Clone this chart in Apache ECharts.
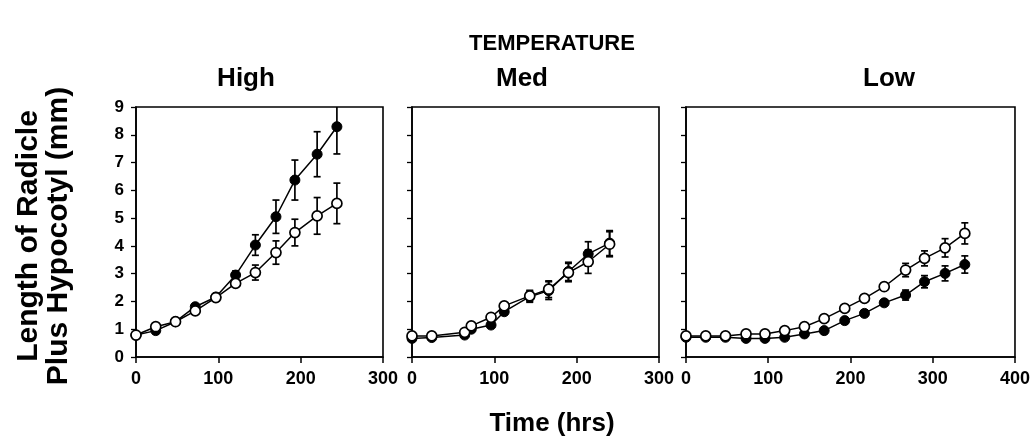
<!DOCTYPE html>
<html>
<head>
<meta charset="utf-8">
<script src="https://cdn.jsdelivr.net/npm/echarts@6/dist/echarts.min.js"></script>
<style>
html,body{margin:0;padding:0;background:#fff;}
#chart{width:1033px;height:440px;}
</style>
</head>
<body>
<div id="chart"></div>
<script>
// ---- Data ----
const panelTitles = ['High', 'Med', 'Low'];
const xMaxes = [300, 300, 400];
const yTicks = [0, 1, 2, 3, 4, 5, 6, 7, 8, 9];

const highTime = [0, 24, 48, 72, 97, 121, 145, 170, 193, 220, 244];
const highFilled = [0.79, 0.95, 1.27, 1.81, 2.16, 2.95, 4.03, 5.05, 6.37, 7.3, 8.29];
const highFilledErr = [0.05, 0.05, 0.05, 0.08, 0.12, 0.15, 0.37, 0.6, 0.72, 0.81, 0.98];
const highOpen = [0.79, 1.09, 1.27, 1.66, 2.14, 2.65, 3.04, 3.76, 4.48, 5.08, 5.53];
const highOpenErr = [0.05, 0.05, 0.05, 0.08, 0.12, 0.1, 0.27, 0.42, 0.48, 0.66, 0.73];

const medTime = [0, 24, 64, 72, 96, 112, 143, 166, 190, 214, 240];
const medFilled = [0.67, 0.7, 0.79, 1.0, 1.15, 1.63, 2.17, 2.39, 3.08, 3.71, 4.1];
const medFilledErr = [0.05, 0.05, 0.05, 0.05, 0.1, 0.1, 0.2, 0.32, 0.33, 0.44, 0.45];
const medOpen = [0.76, 0.76, 0.89, 1.12, 1.43, 1.84, 2.2, 2.44, 3.04, 3.43, 4.06];
const medOpenErr = [0.05, 0.05, 0.05, 0.05, 0.08, 0.1, 0.2, 0.3, 0.33, 0.42, 0.45];

const lowTime = [0, 24, 48, 73, 96, 120, 144, 168, 193, 217, 241, 267, 290, 315, 339];
const lowFilled = [0.71, 0.71, 0.71, 0.67, 0.67, 0.71, 0.83, 0.95, 1.31, 1.57, 1.95, 2.23, 2.71, 3.01, 3.33];
const lowFilledErr = [0.05, 0.05, 0.05, 0.05, 0.05, 0.05, 0.05, 0.05, 0.06, 0.08, 0.1, 0.18, 0.22, 0.27, 0.31];
const lowOpen = [0.76, 0.76, 0.76, 0.83, 0.83, 0.95, 1.09, 1.38, 1.75, 2.11, 2.53, 3.13, 3.55, 3.93, 4.45];
const lowOpenErr = [0.05, 0.05, 0.05, 0.05, 0.05, 0.05, 0.05, 0.06, 0.08, 0.1, 0.12, 0.24, 0.27, 0.33, 0.38];

const panels = [
  {time: highTime, filled: highFilled, filledErr: highFilledErr, open: highOpen, openErr: highOpenErr},
  {time: medTime, filled: medFilled, filledErr: medFilledErr, open: medOpen, openErr: medOpenErr},
  {time: lowTime, filled: lowFilled, filledErr: lowFilledErr, open: lowOpen, openErr: lowOpenErr}
];

// ---- Layout ----
const FONT = '"Liberation Sans", Arial, Helvetica, sans-serif';
const grids = [
  {left: 136, width: 247, top: 107, height: 250},
  {left: 412, width: 247, top: 107, height: 250},
  {left: 686, width: 330, top: 107, height: 250}
];
const titleX = [246, 522, 889];

const chart = echarts.init(document.getElementById('chart'), null, {renderer: 'canvas'});

const xAxes = [], yAxes = [], series = [];
grids.forEach((g, i) => {
  xAxes.push({
    gridIndex: i, type: 'value', min: 0, max: xMaxes[i], interval: 100,
    axisLine: {show: true, onZero: false, lineStyle: {color: '#000', width: 1.6}},
    axisTick: {show: true, length: 6, lineStyle: {color: '#000', width: 1.5}},
    axisLabel: {color: '#000', fontFamily: FONT, fontWeight: 'bold', fontSize: 18, margin: 13, showMaxLabel: true, showMinLabel: true},
    splitLine: {show: false}
  });
  yAxes.push({
    gridIndex: i, type: 'value', min: yTicks[0], max: yTicks[yTicks.length - 1], interval: 1,
    axisLine: {show: true, onZero: false, lineStyle: {color: '#000', width: 1.6}},
    axisTick: {show: true, length: 5, lineStyle: {color: '#000', width: 1.3}},
    axisLabel: {show: i === 0, color: '#000', fontFamily: FONT, fontWeight: 'bold', fontSize: 17, margin: 12},
    splitLine: {show: false}
  });
  const p = panels[i];
  const errSeries = (vals, errs) => ({
    type: 'custom', xAxisIndex: i, yAxisIndex: i, clip: true, z: 1, silent: true,
    data: p.time.map((t, j) => [t, vals[j], errs[j]]),
    renderItem: function (params, api) {
      const x = api.value(0), y = api.value(1), e = api.value(2);
      const top = api.coord([x, y + e]);
      const bot = api.coord([x, y - e]);
      const hw = 3.5;
      const st = {stroke: '#000', lineWidth: 1.7};
      return {
        type: 'group',
        children: [
          {type: 'line', shape: {x1: top[0], y1: top[1], x2: bot[0], y2: bot[1]}, style: st},
          {type: 'line', shape: {x1: top[0] - hw, y1: top[1], x2: top[0] + hw, y2: top[1]}, style: st},
          {type: 'line', shape: {x1: bot[0] - hw, y1: bot[1], x2: bot[0] + hw, y2: bot[1]}, style: st}
        ]
      };
    }
  });
  series.push(errSeries(p.filled, p.filledErr));
  series.push(errSeries(p.open, p.openErr));
  series.push({
    type: 'line', xAxisIndex: i, yAxisIndex: i, z: 3,
    data: p.time.map((t, j) => [t, p.filled[j]]),
    symbol: 'circle', symbolSize: 10,
    lineStyle: {color: '#000', width: 1.5},
    itemStyle: {color: '#000', borderColor: '#000', borderWidth: 1}
  });
  series.push({
    type: 'line', xAxisIndex: i, yAxisIndex: i, z: 4,
    data: p.time.map((t, j) => [t, p.open[j]]),
    symbol: 'circle', symbolSize: 10,
    lineStyle: {color: '#000', width: 1.5},
    itemStyle: {color: '#fff', borderColor: '#000', borderWidth: 1.7}
  });
});

const graphics = [
  {type: 'text', x: 552, y: 44, style: {text: 'TEMPERATURE', fill: '#000', font: 'bold 22px ' + FONT, textAlign: 'center', textVerticalAlign: 'middle'}},
  {type: 'text', x: 44, y: 236, rotation: Math.PI / 2,
   style: {text: 'Length of Radicle\nPlus Hypocotyl (mm)', fill: '#000', font: 'bold 30px ' + FONT, textAlign: 'center', textVerticalAlign: 'middle', lineHeight: 30}},
  {type: 'text', x: 552, y: 424, style: {text: 'Time (hrs)', fill: '#000', font: 'bold 26px ' + FONT, textAlign: 'center', textVerticalAlign: 'middle'}}
];
panelTitles.forEach((t, i) => {
  graphics.push({type: 'text', x: titleX[i], y: 79, style: {text: t, fill: '#000', font: 'bold 26px ' + FONT, textAlign: 'center', textVerticalAlign: 'middle'}});
});

chart.setOption({
  animation: false,
  backgroundColor: '#fff',
  grid: grids.map(g => Object.assign({show: true, borderColor: '#000', borderWidth: 1.6, backgroundColor: 'transparent'}, g)),
  xAxis: xAxes,
  yAxis: yAxes,
  series: series,
  graphic: graphics
});
</script>
</body>
</html>
